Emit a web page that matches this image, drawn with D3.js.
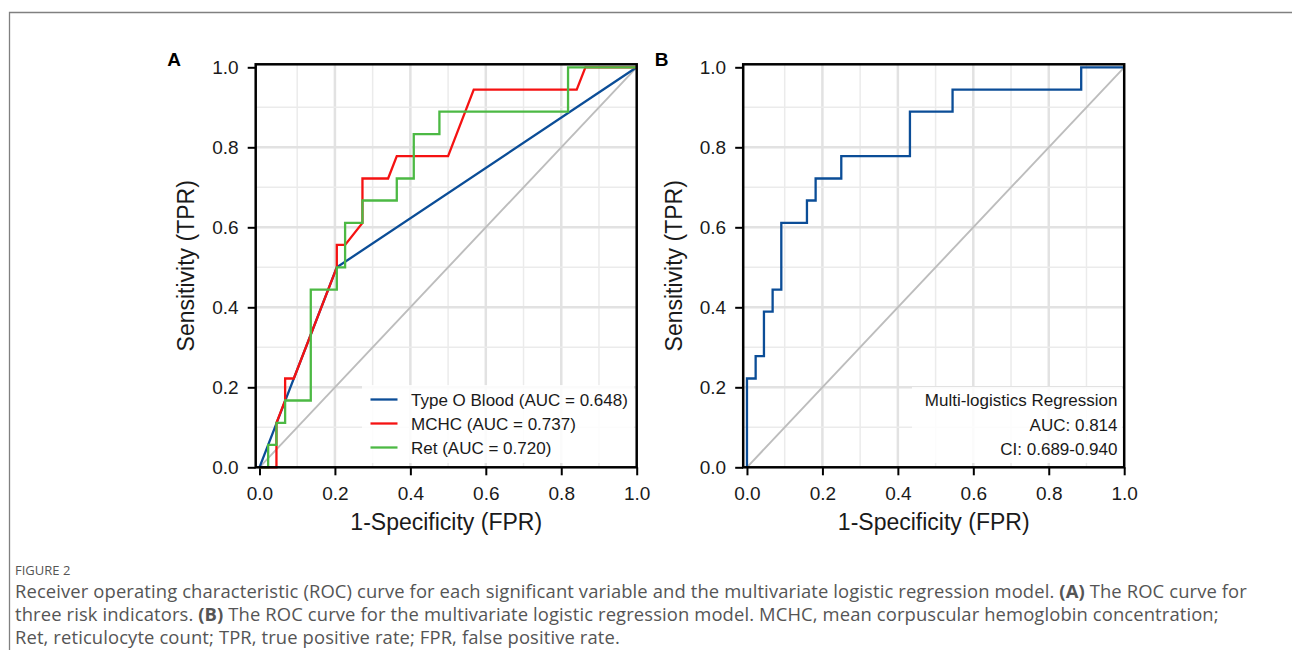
<!DOCTYPE html>
<html>
<head>
<meta charset="utf-8">
<script src="https://cdn.jsdelivr.net/npm/d3@7"></script>
<style>
  body { margin: 0; background: #fff; }
  svg text { font-family: "Liberation Sans", Arial, sans-serif; }
  .caption { font-family: "Open Sans", sans-serif !important; fill: #555; }
</style>
</head>
<body>
<script>

// ticks shared by both panels
var tickVals = [0, 0.2, 0.4, 0.6, 0.8, 1.0];
var gridVals = [0.1, 0.2, 0.3, 0.4, 0.5, 0.6, 0.7, 0.8, 0.9];

// panel A curves (FPR / TPR vertices)
var typeOFpr = [0, 0.205, 1];
var typeOTpr = [0, 0.5, 1];

var mchcFpr = [0, 0.045, 0.045, 0.068, 0.068, 0.091, 0.205, 0.205, 0.227, 0.273, 0.273, 0.341, 0.364, 0.5, 0.568, 0.841, 0.864, 1];
var mchcTpr = [0, 0, 0.111, 0.167, 0.222, 0.222, 0.5, 0.556, 0.556, 0.611, 0.722, 0.722, 0.778, 0.778, 0.944, 0.944, 1, 1];

var retFpr = [0, 0.023, 0.023, 0.045, 0.045, 0.068, 0.068, 0.136, 0.136, 0.205, 0.205, 0.227, 0.227, 0.273, 0.273, 0.364, 0.364, 0.409, 0.409, 0.477, 0.477, 0.818, 0.818, 1];
var retTpr = [0, 0, 0.056, 0.056, 0.111, 0.111, 0.167, 0.167, 0.444, 0.444, 0.5, 0.5, 0.611, 0.611, 0.667, 0.667, 0.722, 0.722, 0.833, 0.833, 0.889, 0.889, 1, 1];

// panel B curve
var multiFpr = [0, 0, 0.023, 0.023, 0.045, 0.045, 0.068, 0.068, 0.091, 0.091, 0.159, 0.159, 0.182, 0.182, 0.25, 0.25, 0.432, 0.432, 0.545, 0.545, 0.886, 0.886, 1];
var multiTpr = [0, 0.222, 0.222, 0.278, 0.278, 0.389, 0.389, 0.444, 0.444, 0.611, 0.611, 0.667, 0.667, 0.722, 0.722, 0.778, 0.778, 0.889, 0.889, 0.944, 0.944, 1, 1];

var legendLabels = ["Type O Blood (AUC = 0.648)", "MCHC (AUC = 0.737)", "Ret (AUC = 0.720)"];
var annotLines = ["Multi-logistics Regression", "AUC: 0.814", "CI: 0.689-0.940"];

var colors = { typeO: "#0b4d97", mchc: "#f51212", ret: "#4cb944", multi: "#0b4d97", chance: "#bdbdbd" };


var svg = d3.select("body").append("svg")
	.attr("width", 1292)
	.attr("height", 666);

// outer figure border (top + left)
svg.append("path")
	.attr("d", "M9.5,650 V12.5 H1292")
	.attr("fill", "none")
	.attr("stroke", "#808080")
	.attr("stroke-width", 1.3);

var plotTop = 64.3, plotBottom = 467.3;

function zip(xs, ys) {
	return xs.map(function(d, i) { return [d, ys[i]]; });
}

function panel(left, letter) {
	var right = left + 381;
	var x = d3.scaleLinear().domain([-0.01, 1]).range([left, right]);
	var y = d3.scaleLinear().domain([0, 1.0075]).range([plotBottom, plotTop]);
	var g = svg.append("g");

	// grid: odd index = major (0.2 steps)
	g.selectAll(".vgrid").data(gridVals).enter().append("line")
		.attr("x1", function(d) { return x(d); }).attr("x2", function(d) { return x(d); })
		.attr("y1", plotTop).attr("y2", plotBottom)
		.attr("stroke", function(d, i) { return i % 2 ? "#e2e2e2" : "#ebebeb"; })
		.attr("stroke-width", function(d, i) { return i % 2 ? 2.5 : 1.5; });
	g.selectAll(".hgrid").data(gridVals).enter().append("line")
		.attr("y1", function(d) { return y(d); }).attr("y2", function(d) { return y(d); })
		.attr("x1", left).attr("x2", right)
		.attr("stroke", function(d, i) { return i % 2 ? "#e2e2e2" : "#ebebeb"; })
		.attr("stroke-width", function(d, i) { return i % 2 ? 2.5 : 1.5; });

	// chance line
	g.append("line")
		.attr("x1", x(0)).attr("y1", y(0))
		.attr("x2", x(1)).attr("y2", y(1))
		.attr("stroke", colors.chance)
		.attr("stroke-width", 1.9);

	// axes
	g.append("g")
		.attr("transform", "translate(0," + plotBottom + ")")
		.call(d3.axisBottom(x).tickValues(tickVals).tickFormat(d3.format(".1f"))
			.tickSizeInner(8).tickSizeOuter(0).tickPadding(11))
		.call(function(a) {
			a.select(".domain").remove();
			a.selectAll("line").attr("stroke", "#000").attr("stroke-width", 2);
			a.selectAll("text").attr("font-size", 19).attr("fill", "#1a1a1a")
				.style("font-family", "'Liberation Sans', Arial, sans-serif");
		});
	g.append("g")
		.attr("transform", "translate(" + left + ",0)")
		.call(d3.axisLeft(y).tickValues(tickVals).tickFormat(d3.format(".1f"))
			.tickSizeInner(8).tickSizeOuter(0).tickPadding(9))
		.call(function(a) {
			a.select(".domain").remove();
			a.selectAll("line").attr("stroke", "#000").attr("stroke-width", 2);
			a.selectAll("text").attr("font-size", 19).attr("fill", "#1a1a1a")
				.style("font-family", "'Liberation Sans', Arial, sans-serif");
		});

	// axis titles
	g.append("text")
		.attr("x", (left + right) / 2).attr("y", 530)
		.attr("text-anchor", "middle")
		.attr("font-size", 23).attr("fill", "#1a1a1a")
		.text("1-Specificity (FPR)");
	g.append("text")
		.attr("transform", "translate(" + (left - 61.5) + "," + ((plotTop + plotBottom) / 2) + ") rotate(-90)")
		.attr("text-anchor", "middle")
		.attr("font-size", 23).attr("fill", "#1a1a1a")
		.text("Sensitivity (TPR)");

	// panel letter
	g.append("text")
		.attr("x", left - 88.5).attr("y", 65.5)
		.attr("font-size", 19).attr("font-weight", "bold")
		.text(letter);

	var line = d3.line()
		.x(function(d) { return x(d[0]); })
		.y(function(d) { return y(d[1]); });

	return { g: g, x: x, y: y, line: line, left: left, right: right };
}

function frame(p) {
	p.g.append("rect")
		.attr("x", p.left).attr("y", plotTop)
		.attr("width", p.right - p.left).attr("height", plotBottom - plotTop)
		.attr("fill", "none")
		.attr("stroke", "#000")
		.attr("stroke-width", 2.5);
}

// ---- panel A ----
var pa = panel(255.7, "A");

var seriesA = [
	{ pts: zip(typeOFpr, typeOTpr), color: colors.typeO },
	{ pts: zip(mchcFpr, mchcTpr), color: colors.mchc },
	{ pts: zip(retFpr, retTpr), color: colors.ret }
];

pa.g.selectAll(".roc").data(seriesA).enter().append("path")
	.attr("d", function(d) { return pa.line(d.pts); })
	.attr("fill", "none")
	.attr("stroke", function(d) { return d.color; })
	.attr("stroke-width", 2.3)
	.attr("stroke-linejoin", "miter");

// legend
var leg = pa.g.append("g");
leg.append("rect")
	.attr("x", 362).attr("y", 385)
	.attr("width", 272).attr("height", 78)
	.attr("fill", "#fff").attr("fill-opacity", 0.85);
var legItems = leg.selectAll(".li").data(legendLabels).enter().append("g")
	.attr("transform", function(d, i) { return "translate(0," + (399.5 + i * 24) + ")"; });
legItems.append("line")
	.attr("x1", 370.5).attr("x2", 397.5)
	.attr("stroke", function(d, i) { return seriesA[i].color; })
	.attr("stroke-width", 2.3);
legItems.append("text")
	.attr("x", 411).attr("y", 6)
	.attr("font-size", 17).attr("fill", "#1a1a1a")
	.text(function(d) { return d; });

frame(pa);

// ---- panel B ----
var pb = panel(743.2, "B");

pb.g.append("path")
	.attr("d", pb.line(zip(multiFpr, multiTpr)))
	.attr("fill", "none")
	.attr("stroke", colors.multi)
	.attr("stroke-width", 2.3);

var ann = pb.g.append("g");
ann.append("rect")
	.attr("x", 912).attr("y", 387)
	.attr("width", 210).attr("height", 76)
	.attr("fill", "#fff").attr("fill-opacity", 0.85);
ann.selectAll("text").data(annotLines).enter().append("text")
	.attr("x", 1117.5)
	.attr("y", function(d, i) { return 406 + i * 24.5; })
	.attr("text-anchor", "end")
	.attr("font-size", 17).attr("fill", "#1a1a1a")
	.text(function(d) { return d; });

frame(pb);

// ---- caption ----
var cap = svg.append("g");
cap.append("text").attr("class", "caption")
	.attr("x", 15).attr("y", 575)
	.attr("font-size", 13).attr("fill", "#5a5a5a")
	.text("FIGURE 2");

var capLines = [
	[["Receiver operating characteristic (ROC) curve for each significant variable and the multivariate logistic regression model. ", false], ["(A)", true], [" The ROC curve for", false]],
	[["three risk indicators. ", false], ["(B)", true], [" The ROC curve for the multivariate logistic regression model. MCHC, mean corpuscular hemoglobin concentration;", false]],
	[["Ret, reticulocyte count; TPR, true positive rate; FPR, false positive rate.", false]]
];

capLines.forEach(function(parts, i) {
	var t = cap.append("text").attr("class", "caption")
		.attr("x", 15).attr("y", 598 + i * 23)
		.attr("font-size", 18.4)
		.attr("letter-spacing", 0.12);
	parts.forEach(function(p) {
		t.append("tspan")
			.attr("font-weight", p[1] ? "bold" : "normal")
			.text(p[0]);
	});
});

</script>
</body>
</html>
